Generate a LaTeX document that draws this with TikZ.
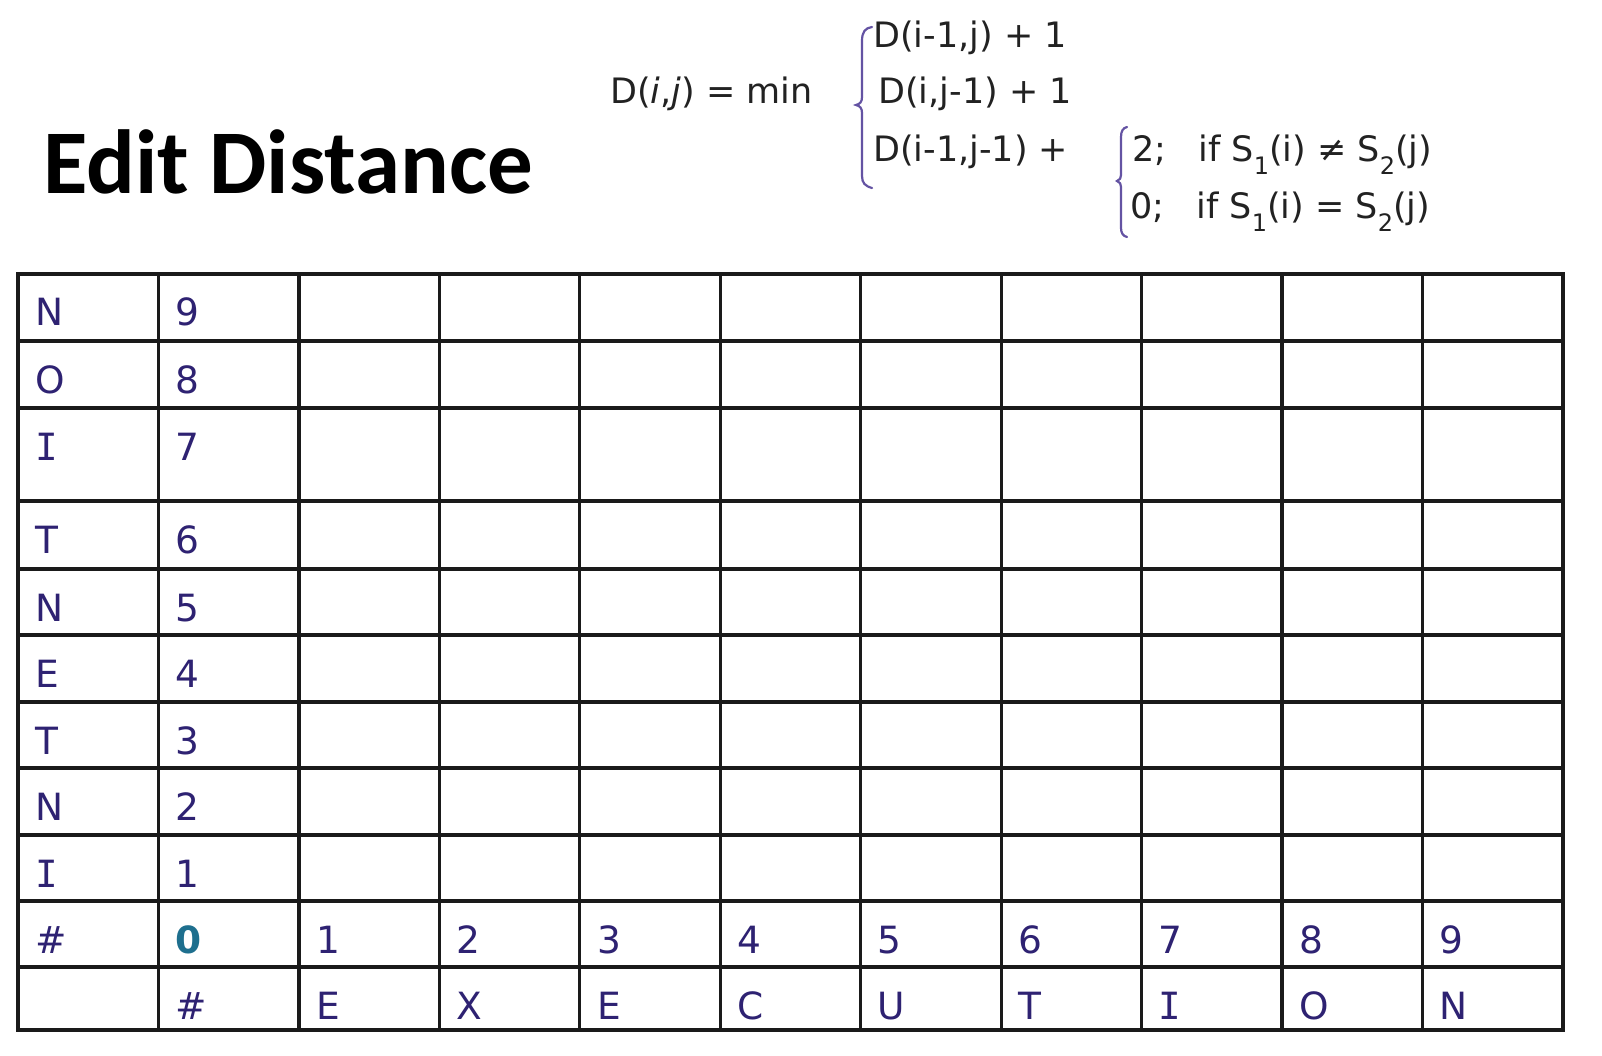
\documentclass[tikz,border=0pt]{standalone}
\usepackage{fontspec}
\setmainfont{DejaVu Sans}[ItalicFont={DejaVu Sans Oblique},BoldFont={DejaVu Sans Bold}]
\newfontfamily\titlefont{Carlito}
\newfontfamily\serifI{DejaVu Sans Mono}
\definecolor{ink}{HTML}{2E2272}
\definecolor{zeroc}{HTML}{1E6F8E}
\definecolor{fcol}{HTML}{222222}
\definecolor{bcol}{HTML}{6453A3}
\definecolor{gridcol}{HTML}{1A1A1A}
\newcommand{\subs}[1]{\raisebox{-0.36em}{\fontsize{24}{24}\selectfont #1}}
\begin{document}
\begin{tikzpicture}[x=1pt,y=-1pt,
  cell/.style={anchor=base west, inner sep=0pt, text=ink, font=\fontsize{37.5}{40}\selectfont},
  zerocell/.style={anchor=base west, inner sep=0pt, text=zeroc, font=\fontsize{37.5}{40}\selectfont\bfseries},
  formula/.style={anchor=base west, inner sep=0pt, text=fcol, font=\fontsize{35}{40}\selectfont},
  gridline/.style={line width=3.2pt, draw=gridcol},
  bracepath/.style={draw=bcol, line width=2.2pt, line cap=round}]
\useasboundingbox (0,0) rectangle (1602,1056);
\fill[white] (0,0) rectangle (1602,1056);

% title
\node[anchor=base west, inner sep=0pt, font=\titlefont\bfseries\fontsize{91}{100}\selectfont] (title) at (43,194) {Edit Distance};

% formula
\node[formula] (lhs) at (610,104) {D(\textit{i},\textit{j}) = min};
\node[formula] (r1) at (873,48) {D(i-1,j) + 1};
\node[formula] (r2) at (878,104) {D(i,j-1) + 1};
\node[formula] (r3) at (873,162) {D(i-1,j-1) +};
\node[formula] (c1) at (1132,162) {2;\hspace{0.6em} if S\subs{1}(i) ≠ S\subs{2}(j)};
\node[formula] (c2) at (1130,219) {0;\hspace{0.6em} if S\subs{1}(i) = S\subs{2}(j)};

% braces
\draw[bracepath] (872,27) .. controls (865,28) and (862,32) .. (862,41) -- (862,97)
  .. controls (862,102) and (860,104) .. (856,105)
  .. controls (860,106) and (862,108) .. (862,113) -- (862,176)
  .. controls (862,183) and (865,186) .. (872,188);
\draw[bracepath] (1127,127) .. controls (1123,128) and (1121,131) .. (1121,137) -- (1121,175)
  .. controls (1121,178) and (1120,180) .. (1117,181)
  .. controls (1120,182) and (1121,184) .. (1121,187) -- (1121,228)
  .. controls (1121,233) and (1123,236) .. (1127,237);

% grid
\foreach \k in {1,...,10} \draw[gridline] ({18+140.45*\k},274) -- ({18+140.45*\k},1030);
\foreach \y in {341,408,501,569,635,702,768,835,901,967} \draw[gridline] (18,\y) -- (1563,\y);
\draw[gridline, line width=3.4pt] (18,274) rectangle (1563,1030);

% left columns
\foreach \t/\a/\b [count=\r] in {274/N/9, 341/O/8, 408/{\serifI I}/7, 501/T/6, 569/N/5, 635/E/4, 702/T/3, 768/N/2, 835/{\serifI I}/1} {
  \node[cell] (s\r) at (35,{\t+52}) {\a};
  \node[cell] (n\r) at (175,{\t+52}) {\b};
}
\node[cell] (shash) at (35,953) {\#};
\node[zerocell] (zero) at (175,953) {0};
\node[cell] (thash) at (175,1019) {\#};

% bottom rows
\foreach \d/\c [count=\k from 2] in {1/E, 2/X, 3/E, 4/C, 5/U, 6/T, 7/{\serifI I}, 8/O, 9/N} {
  \node[cell] (d\k) at ({18+140.45*\k+17},953) {\d};
  \node[cell] (t\k) at ({18+140.45*\k+17},1019) {\c};
}
\end{tikzpicture}
\end{document}
